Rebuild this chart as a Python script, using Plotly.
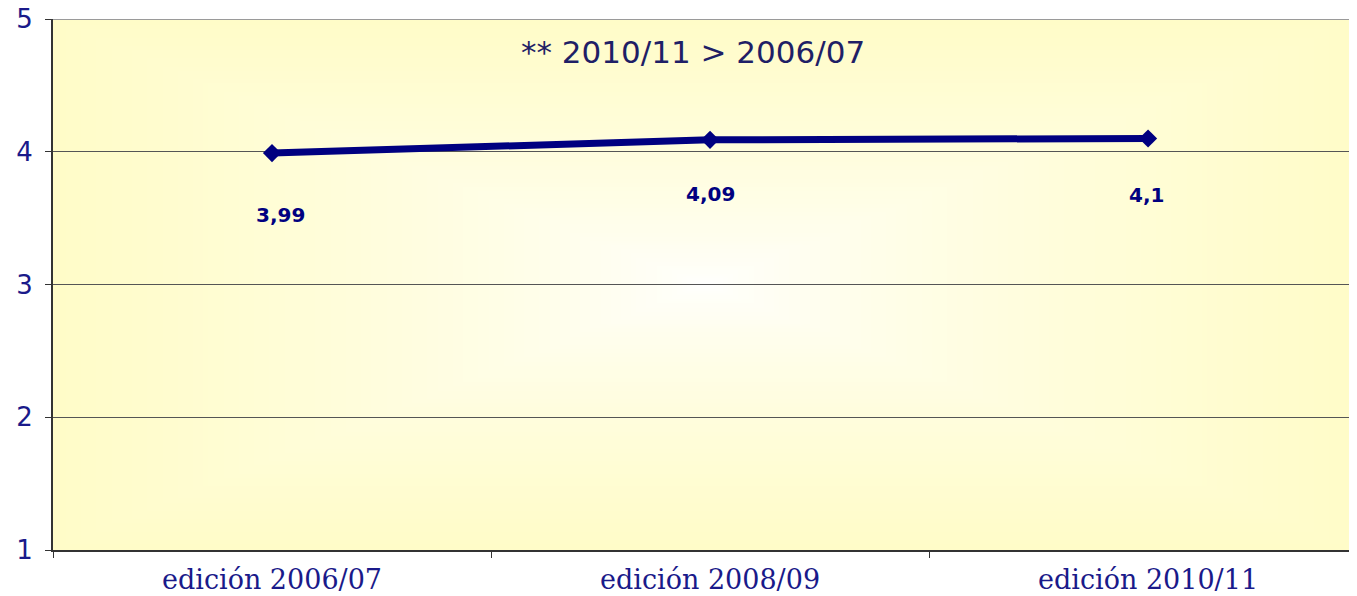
import base64, struct, zlib
import plotly.graph_objects as go

categories = ["edición 2006/07", "edición 2008/09", "edición 2010/11"]
values = [3.99, 4.09, 4.10]
value_labels = ["3,99", "4,09", "4,1"]
y_ticks = [1, 2, 3, 4, 5]
note_text = "** 2010/11 > 2006/07"

# label offsets (px) -- styling only
label_dx = [8, 0, -2]
label_dy = [-62, -54, -57]

NAVY = "#000080"
TEXT_NAVY = "#1a1a8a"


def gradient_png(w=256, h=128):
    edge = (255, 252, 200)
    rows = []
    for j in range(h):
        row = bytearray([0])
        dy = abs((j + 0.5) / h - 0.5) * 2
        for i in range(w):
            dx = abs((i + 0.5) / w - 0.5) * 2
            t = max(dx, dy)
            t = min(1.0, t ** 0.7)
            r = round(255 * (1 - t) + edge[0] * t)
            g = round(255 * (1 - t) + edge[1] * t)
            b = round(255 * (1 - t) + edge[2] * t)
            row += bytes([r, g, b])
        rows.append(bytes(row))
    raw = b"".join(rows)

    def chunk(tag, data):
        c = struct.pack(">I", len(data)) + tag + data
        return c + struct.pack(">I", zlib.crc32(tag + data) & 0xFFFFFFFF)

    png = b"\x89PNG\r\n\x1a\n"
    png += chunk(b"IHDR", struct.pack(">IIBBBBB", w, h, 8, 2, 0, 0, 0))
    png += chunk(b"IDAT", zlib.compress(raw, 9))
    png += chunk(b"IEND", b"")
    return "data:image/png;base64," + base64.b64encode(png).decode()


fig = go.Figure()
fig.add_trace(go.Scatter(
    x=categories, y=values, mode="lines+markers",
    line=dict(color=NAVY, width=7),
    marker=dict(symbol="diamond", size=14, color=NAVY),
    hoverinfo="skip", showlegend=False,
))

for c, v, t, dx, dy in zip(categories, values, value_labels, label_dx, label_dy):
    fig.add_annotation(x=c, y=v, text=f"<b>{t}</b>", showarrow=False,
                       xshift=dx, yshift=dy,
                       font=dict(family="DejaVu Sans", size=20, color=NAVY))

fig.add_annotation(xref="paper", yref="paper", x=0.491, y=0.938,
                   text=note_text, showarrow=False, xanchor="center", yanchor="middle",
                   font=dict(family="DejaVu Sans", size=31, color="#1f1f66"))

# top border of plot area
fig.add_shape(type="line", xref="paper", yref="y", x0=0, x1=1, y0=5, y1=5,
              line=dict(color="#9a9a9a", width=2), layer="above")

fig.add_layout_image(dict(source=gradient_png(), xref="paper", yref="paper",
                          x=0, y=1, sizex=1, sizey=1, sizing="stretch",
                          xanchor="left", yanchor="top", layer="below"))

fig.update_layout(
    width=1349, height=588,
    margin=dict(l=45, r=0, t=11, b=46, autoexpand=False),
    paper_bgcolor="white", plot_bgcolor="rgba(0,0,0,0)",
    xaxis=dict(type="category", range=[-0.5, 2.477], tickson="boundaries",
               ticks="outside", ticklen=6, tickcolor="#333", tickwidth=1,
               showline=True, linecolor="#333", linewidth=2, showgrid=False,
               tickfont=dict(family="DejaVu Serif", size=27, color=TEXT_NAVY),
               ticklabelstandoff=5, ticklabeloverflow="allow", automargin=False),
    yaxis=dict(range=[1, 5], tickvals=y_ticks, ticks="outside", ticklen=6,
               tickcolor="#333", tickwidth=1,
               showline=True, linecolor="#333", linewidth=2,
               showgrid=True, gridcolor="#555", gridwidth=1, zeroline=False,
               tickfont=dict(family="DejaVu Sans", size=26, color=TEXT_NAVY),
               ticklabelstandoff=7, ticklabeloverflow="allow", automargin=False),
)

fig.write_html("out.html")
